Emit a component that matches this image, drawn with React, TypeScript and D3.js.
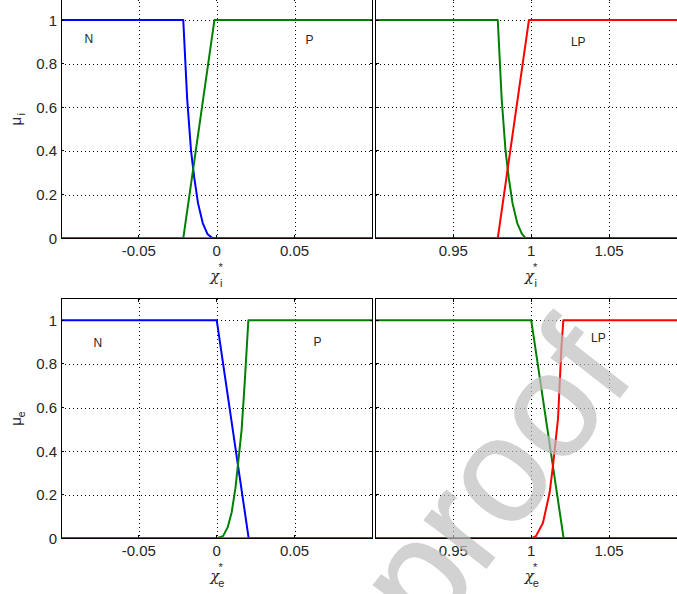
import React from "react";
import * as d3 from "d3";

const W = 677;
const H = 594;

// Membership functions over the ideal ratio χ*_i (blue N, green P, red LP)
const xiN = [-0.1, -0.0215, -0.019, -0.0165, -0.0145, -0.012, -0.009, -0.006, -0.003, 0, 1.1];
const muiN = [1, 1, 0.64, 0.4, 0.28, 0.16, 0.07, 0.02, 0.002, 0, 0];
const xiP = [-0.1, -0.0215, -0.0015, 0.9785, 0.981, 0.9835, 0.9855, 0.988, 0.991, 0.994, 0.9965, 1.1];
const muiP = [0, 0, 1, 1, 0.64, 0.4, 0.28, 0.16, 0.07, 0.02, 0, 0];
const xiLP = [-0.1, 0.9785, 0.9985, 1.1];
const muiLP = [0, 0, 1, 1];

// Membership functions over the estimated ratio χ*_e
const xeN = [-0.1, 0, 0.0205, 1.1];
const mueN = [1, 1, 0, 0];
const xeP = [-0.1, 0, 0.004, 0.007, 0.0096, 0.012, 0.0135, 0.016, 0.018, 0.0203, 1.0, 1.0208, 1.1];
const mueP = [0, 0, 0.01, 0.05, 0.12, 0.23, 0.33, 0.5, 0.72, 1, 1, 0, 0];
const xeLP = [-0.1, 1.0, 1.003, 1.0075, 1.0118, 1.0139, 1.0172, 1.0194, 1.0206, 1.1];
const mueLP = [0, 0, 0.01, 0.07, 0.21, 0.33, 0.55, 0.88, 1, 1];

// Axis ticks
const yTicks = [0, 0.2, 0.4, 0.6, 0.8, 1];
const yTickLabels = ["0", "0.2", "0.4", "0.6", "0.8", "1"];
const xTicksLow = [-0.05, 0, 0.05];
const xTickLabelsLow = ["-0.05", "0", "0.05"];
const xTicksHigh = [0.95, 1, 1.05];
const xTickLabelsHigh = ["0.95", "1", "1.05"];

// Set names written inside each panel: [label, x, μ]
const namesILow: [string, number, number][] = [["N", -0.0822, 0.914], ["P", 0.0596, 0.91]];
const namesIHigh: [string, number, number][] = [["LP", 1.0302, 0.9]];
const namesELow: [string, number, number][] = [["N", -0.0764, 0.898], ["P", 0.0647, 0.902]];
const namesEHigh: [string, number, number][] = [["LP", 1.0431, 0.919]];

const COLORS = { N: "#0000ff", P: "#008000", LP: "#ff0000" };
const FONT = "'Liberation Sans', Arial, Helvetica, sans-serif";
const TEXT = "#262626";

type Series = { xs: number[]; ys: number[]; color: string };

const seriesI: Series[] = [
  { xs: xiN, ys: muiN, color: COLORS.N },
  { xs: xiP, ys: muiP, color: COLORS.P },
  { xs: xiLP, ys: muiLP, color: COLORS.LP },
];
const seriesE: Series[] = [
  { xs: xeN, ys: mueN, color: COLORS.N },
  { xs: xeP, ys: mueP, color: COLORS.P },
  { xs: xeLP, ys: mueLP, color: COLORS.LP },
];

const LEFT_RANGE: [number, number] = [61, 372.5];
const RIGHT_RANGE: [number, number] = [375.5, 687];
const TOP_ROW: [number, number] = [-1.8, 238.3];
const BOTTOM_ROW: [number, number] = [298.5, 538.3];

type PanelProps = {
  id: string;
  xDomain: [number, number];
  xRange: [number, number];
  yRange: [number, number];
  xTicks: number[];
  xLabels: string[];
  series: Series[];
  names: [string, number, number][];
  showY: boolean;
  sub: string;
};

function Panel(p: PanelProps) {
  const x = d3.scaleLinear().domain(p.xDomain).range(p.xRange);
  const y = d3.scaleLinear().domain([0, 1.1]).range([p.yRange[1], p.yRange[0]]);
  const [x0, x1] = p.xRange;
  const [y0, y1] = p.yRange;
  const line = d3
    .line<[number, number]>()
    .x((d) => x(d[0]))
    .y((d) => y(d[1]));
  const tl = 3;
  const ym = (y0 + y1) / 2;
  const xc = x(p.xDomain[0] + 0.1);
  return (
    <g>
      <defs>
        <clipPath id={p.id}>
          <rect x={x0} y={y0} width={x1 - x0} height={y1 - y0} />
        </clipPath>
      </defs>
      <rect x={x0} y={y0} width={x1 - x0} height={y1 - y0} fill="#fff" />
      {/* grid */}
      <g stroke="#000" strokeWidth={1} strokeDasharray="1 3" shapeRendering="crispEdges">
        {p.xTicks.map((t) => (
          <line key={"gx" + t} x1={Math.round(x(t)) + 0.5} x2={Math.round(x(t)) + 0.5} y1={y0} y2={y1} />
        ))}
        {yTicks.slice(1).map((t) => (
          <line key={"gy" + t} x1={x0} x2={x1} y1={Math.round(y(t)) + 0.5} y2={Math.round(y(t)) + 0.5} />
        ))}
      </g>
      {/* curves */}
      <g clipPath={`url(#${p.id})`} fill="none" strokeWidth={2} strokeLinejoin="round">
        {p.series.map((s, i) => (
          <path key={i} d={line(d3.zip(s.xs, s.ys) as [number, number][]) || ""} stroke={s.color} />
        ))}
      </g>
      {/* box and ticks */}
      <g stroke="#000" strokeWidth={1} shapeRendering="crispEdges">
        <rect x={x0} y={y0} width={x1 - x0} height={y1 - y0} fill="none" />
        {p.xTicks.map((t) => (
          <g key={"tx" + t}>
            <line x1={x(t)} x2={x(t)} y1={y1} y2={y1 - tl} />
            <line x1={x(t)} x2={x(t)} y1={y0} y2={y0 + tl} />
          </g>
        ))}
        {yTicks.map((t) => (
          <g key={"ty" + t}>
            <line x1={x0} x2={x0 + tl} y1={y(t)} y2={y(t)} />
            <line x1={x1} x2={x1 - tl} y1={y(t)} y2={y(t)} />
          </g>
        ))}
      </g>
      {/* tick labels */}
      <g fontFamily={FONT} fontSize={15} fill={TEXT}>
        {p.xTicks.map((t, i) => (
          <text key={"lx" + t} x={x(t)} y={y1 + 18} textAnchor="middle">
            {p.xLabels[i]}
          </text>
        ))}
        {p.showY &&
          yTicks.map((t, i) => (
            <text key={"ly" + t} x={x0 - 4} y={y(t) + 5.5} textAnchor="end">
              {yTickLabels[i]}
            </text>
          ))}
      </g>
      {/* set names */}
      <g fontFamily={FONT} fontSize={12} fill={TEXT}>
        {p.names.map(([n, nx, ny]) => (
          <text key={n} x={x(nx)} y={y(ny) + 4.3} textAnchor="middle">
            {n}
          </text>
        ))}
      </g>
      {/* x axis label χ* with subscript */}
      <g fill={TEXT}>
        <text x={xc - 2} y={y1 + 43} textAnchor="middle" fontFamily="'DejaVu Serif', 'Liberation Serif', serif" fontStyle="italic" fontSize={15}>
          χ
        </text>
        <text x={xc + 4} y={y1 + 33} textAnchor="middle" fontFamily={FONT} fontSize={11}>
          *
        </text>
        <text x={xc + 4.5} y={y1 + 49} textAnchor="middle" fontFamily={FONT} fontSize={11}>
          {p.sub}
        </text>
      </g>
      {/* y axis label μ with subscript */}
      {p.showY && (
        <g fill={TEXT} transform={`translate(21,${ym + 3}) rotate(-90)`}>
          <text x={0} y={0} textAnchor="middle" fontFamily={FONT} fontSize={15}>
            μ
          </text>
          <text x={7} y={4} textAnchor="middle" fontFamily={FONT} fontSize={11}>
            {p.sub}
          </text>
        </g>
      )}
    </g>
  );
}

export default function App() {
  return (
    <svg
      width={W}
      height={H}
      viewBox={`0 0 ${W} ${H}`}
      style={{ position: "absolute", left: 0, top: 0, background: "#fff" }}
    >
      <rect width={W} height={H} fill="#fff" />
      <Panel id="cTL" xDomain={[-0.1, 0.1]} xRange={LEFT_RANGE} yRange={TOP_ROW} xTicks={xTicksLow} xLabels={xTickLabelsLow} series={seriesI} names={namesILow} showY sub="i" />
      <Panel id="cTR" xDomain={[0.9, 1.1]} xRange={RIGHT_RANGE} yRange={TOP_ROW} xTicks={xTicksHigh} xLabels={xTickLabelsHigh} series={seriesI} names={namesIHigh} showY={false} sub="i" />
      <Panel id="cBL" xDomain={[-0.1, 0.1]} xRange={LEFT_RANGE} yRange={BOTTOM_ROW} xTicks={xTicksLow} xLabels={xTickLabelsLow} series={seriesE} names={namesELow} showY sub="e" />
      <Panel id="cBR" xDomain={[0.9, 1.1]} xRange={RIGHT_RANGE} yRange={BOTTOM_ROW} xTicks={xTicksHigh} xLabels={xTickLabelsHigh} series={seriesE} names={namesEHigh} showY={false} sub="e" />
      {/* watermark */}
      <g opacity={0.7}>
        <text
          x={637}
          y={375}
          transform="rotate(-52 637 375)"
          textAnchor="end"
          fontFamily={FONT}
          fontSize={148}
          fill="#bfbfbf"
          stroke="#bfbfbf"
          strokeWidth={1.5}
        >
          Journal Pre-proof
        </text>
      </g>
    </svg>
  );
}
